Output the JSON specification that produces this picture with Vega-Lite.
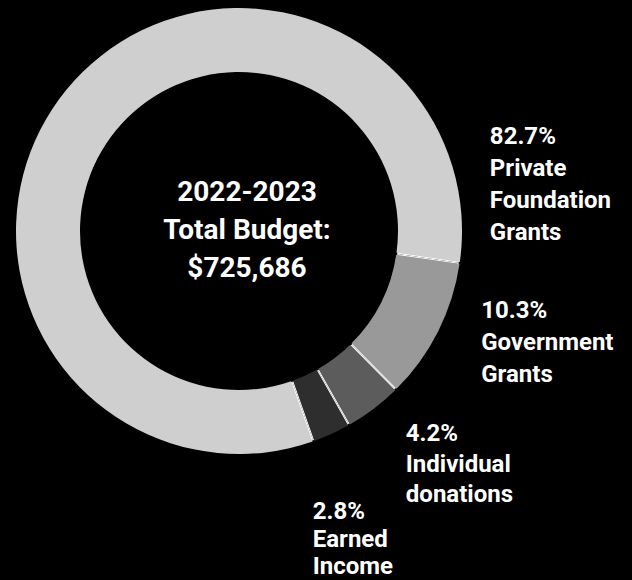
{
  "$schema": "https://vega.github.io/schema/vega-lite/v6.json",
  "width": 478,
  "height": 462,
  "autosize": {"type": "none"},
  "padding": {"left": 0, "top": 0, "right": 154, "bottom": 118},
  "background": "#000000",
  "config": {"view": {"stroke": null}},
  "data": {
    "values": [
      {"category": "Private Foundation Grants", "value": 82.7, "label": ["82.7%", "Private", "Foundation", "Grants"]},
      {"category": "Government Grants", "value": 10.3, "label": ["10.3%", "Government", "Grants"]},
      {"category": "Individual donations", "value": 4.2, "label": ["4.2%", "Individual", "donations"]},
      {"category": "Earned Income", "value": 2.8, "label": ["2.8%", "Earned", "Income"]}
    ]
  },
  "transform": [
    {"stack": "value", "groupby": [], "sort": [{"field": "value", "order": "descending"}], "as": ["v0", "v1"]},
    {"calculate": "(datum.v0 + datum.v1) / 2", "as": "mid"}
  ],
  "layer": [
    {
      "mark": {"type": "arc", "innerRadius": 160, "outerRadius": 222, "color": "#ffffff"},
      "encoding": {
        "theta": {"field": "v0", "type": "quantitative", "stack": null, "scale": {"domain": [0, 100], "range": [2.8013, 9.0845]}},
        "theta2": {"field": "v1"}
      }
    },
    {
      "mark": {"type": "arc", "innerRadius": 159, "outerRadius": 223, "padAngle": 0.007},
      "encoding": {
        "theta": {"field": "v0", "type": "quantitative", "stack": null, "scale": {"domain": [0, 100], "range": [2.8013, 9.0845]}},
        "theta2": {"field": "v1"},
        "color": {
          "field": "category",
          "type": "nominal",
          "scale": {
            "domain": ["Private Foundation Grants", "Government Grants", "Individual donations", "Earned Income"],
            "range": ["#cfcfcf", "#999999", "#5c5c5c", "#2e2e2e"]
          },
          "legend": null
        }
      }
    },
    {
      "data": {"values": [{"title": ["2022-2023", "Total Budget:", "$725,686"]}]},
      "mark": {"type": "text", "align": "center", "baseline": "middle", "dx": 8, "dy": -38, "font": "Roboto", "fontWeight": "bold", "fontSize": 28, "lineHeight": 38, "color": "#ffffff"},
      "encoding": {"text": {"field": "title"}}
    },
    {
      "transform": [{"filter": "datum.category === 'Private Foundation Grants'"}],
      "mark": {"type": "text", "align": "left", "baseline": "middle", "radius": 268, "thetaOffset": -0.503, "font": "Roboto", "fontWeight": "bold", "fontSize": 24, "lineHeight": 32, "color": "#ffffff"},
      "encoding": {
        "theta": {"field": "v1", "type": "quantitative", "stack": null, "scale": {"domain": [0, 100], "range": [2.8013, 9.0845]}},
        "text": {"field": "label"}
      }
    },
    {
      "transform": [{"filter": "datum.category === 'Government Grants'"}],
      "mark": {"type": "text", "align": "left", "baseline": "middle", "radius": 255, "thetaOffset": -0.149, "font": "Roboto", "fontWeight": "bold", "fontSize": 24, "lineHeight": 32, "color": "#ffffff"},
      "encoding": {
        "theta": {"field": "mid", "type": "quantitative", "stack": null, "scale": {"domain": [0, 100], "range": [2.8013, 9.0845]}},
        "text": {"field": "label"}
      }
    },
    {
      "transform": [{"filter": "datum.category === 'Individual donations'"}],
      "mark": {"type": "text", "align": "left", "baseline": "middle", "radius": 263, "thetaOffset": -0.039, "font": "Roboto", "fontWeight": "bold", "fontSize": 24, "lineHeight": 30.5, "color": "#ffffff"},
      "encoding": {
        "theta": {"field": "mid", "type": "quantitative", "stack": null, "scale": {"domain": [0, 100], "range": [2.8013, 9.0845]}},
        "text": {"field": "label"}
      }
    },
    {
      "transform": [{"filter": "datum.category === 'Earned Income'"}],
      "mark": {"type": "text", "align": "left", "baseline": "middle", "radius": 291, "thetaOffset": 0.172, "font": "Roboto", "fontWeight": "bold", "fontSize": 24, "lineHeight": 27.5, "color": "#ffffff"},
      "encoding": {
        "theta": {"field": "mid", "type": "quantitative", "stack": null, "scale": {"domain": [0, 100], "range": [2.8013, 9.0845]}},
        "text": {"field": "label"}
      }
    }
  ]
}
